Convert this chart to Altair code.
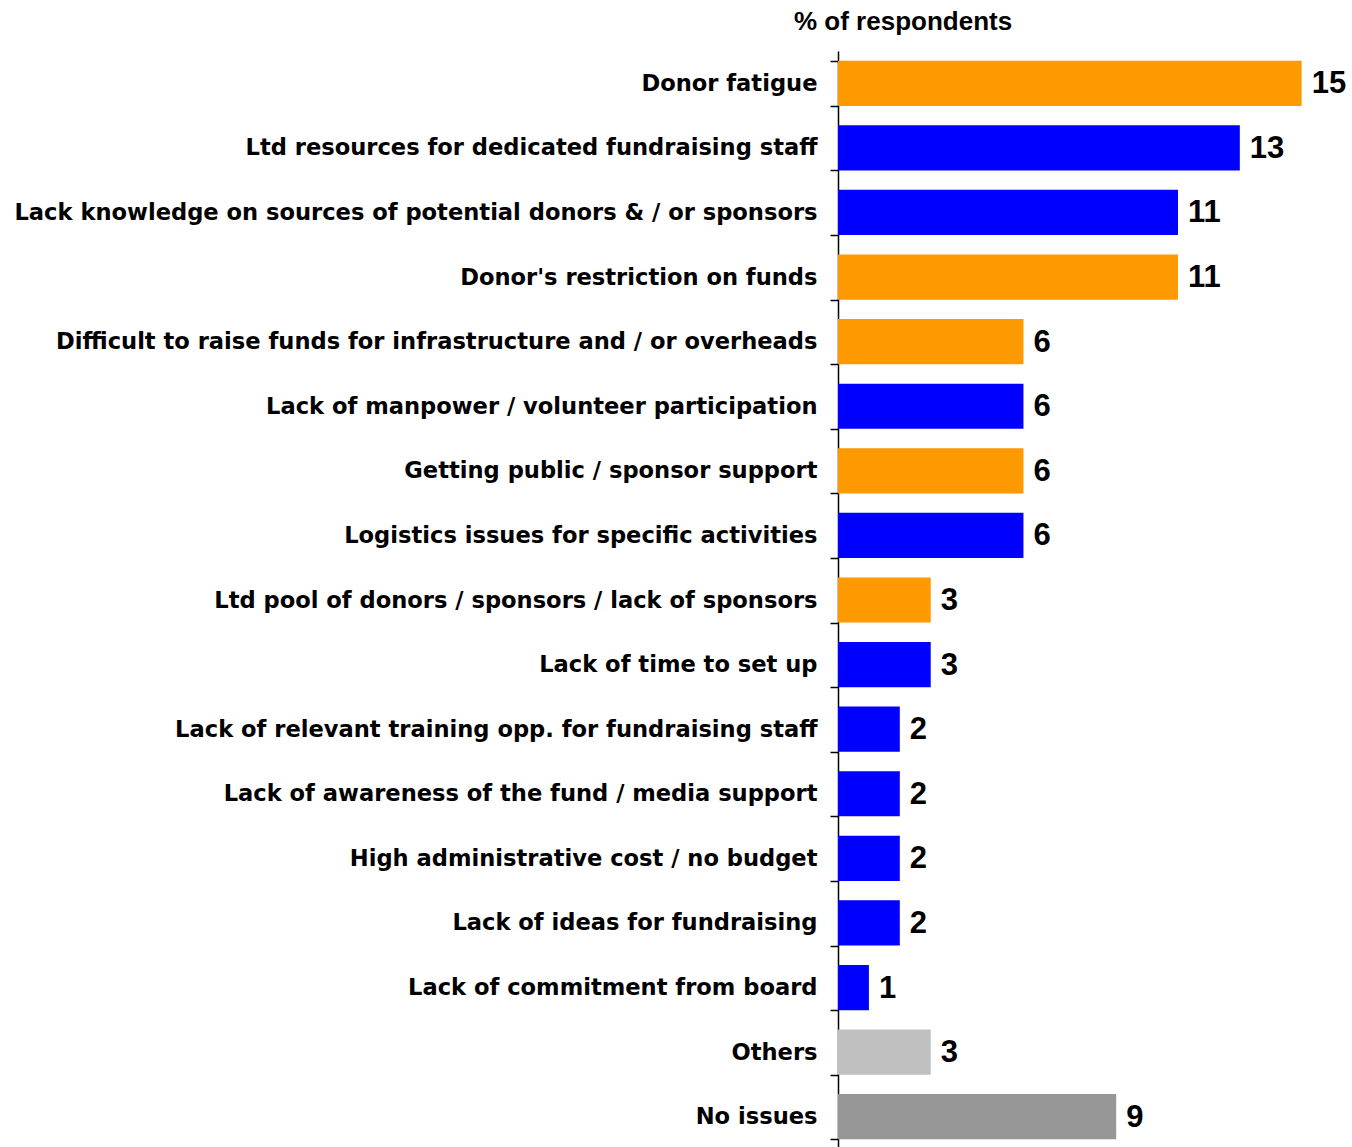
import altair as alt
import pandas as pd

categories = [
    "Donor fatigue",
    "Ltd resources for dedicated fundraising staff",
    "Lack knowledge on sources of potential donors & / or sponsors",
    "Donor's restriction on funds",
    "Difficult to raise funds for infrastructure and / or overheads",
    "Lack of manpower / volunteer participation",
    "Getting public / sponsor support",
    "Logistics issues for specific activities",
    "Ltd pool of donors / sponsors / lack of sponsors",
    "Lack of time to set up",
    "Lack of relevant training opp. for fundraising staff",
    "Lack of awareness of the fund / media support",
    "High administrative cost / no budget",
    "Lack of ideas for fundraising",
    "Lack of commitment from board",
    "Others",
    "No issues",
]
values = [15, 13, 11, 11, 6, 6, 6, 6, 3, 3, 2, 2, 2, 2, 1, 3, 9]
groups = ["A", "B", "B", "A", "A", "B", "A", "B", "A", "B", "B", "B", "B", "B", "B", "O", "N"]

group_domain = ["A", "B", "O", "N"]
group_colors = ["#FF9900", "#0000FF", "#C0C0C0", "#969696"]

df = pd.DataFrame({"category": categories, "value": values, "group": groups})

y_enc = alt.Y(
    "category:N",
    sort=categories,
    title=None,
    scale=alt.Scale(paddingInner=0.3, paddingOuter=0.15),
    axis=alt.Axis(
        domain=True,
        domainColor="black",
        domainWidth=1.5,
        ticks=True,
        tickBand="extent",
        tickSize=8,
        tickColor="black",
        tickWidth=1.5,
        labelPadding=13,
        labelLimit=1000,
        labelFont="DejaVu Sans",
        labelFontWeight="bold",
        labelFontSize=22.6,
        labelColor="black",
    ),
)
x_enc = alt.X("value:Q", axis=None, scale=alt.Scale(domain=[0, 16.5], nice=False))

bars = alt.Chart(df).mark_bar().encode(
    x=x_enc,
    y=y_enc,
    color=alt.Color("group:N", scale=alt.Scale(domain=group_domain, range=group_colors), legend=None),
)

labels = alt.Chart(df).mark_text(
    align="left", baseline="middle", dx=10, dy=1,
    font="Liberation Sans", fontWeight="bold", fontSize=31, color="black",
).encode(x=x_enc, y=y_enc, text="value:Q")

chart = (bars + labels).properties(
    width=510,
    height=1098,
    padding={"left": 838, "top": 51, "right": 4, "bottom": 0},
    autosize=alt.AutoSizeParams(type="none"),
    title=alt.TitleParams(
        "% of respondents",
        anchor="start",
        frame="group",
        dx=-44,
        offset=5,
        font="Liberation Sans",
        fontWeight=700,
        fontSize=26,
        color="black",
    ),
).configure_view(stroke=None)

chart.save("out.html", embed_options={"renderer": "svg", "actions": False})
